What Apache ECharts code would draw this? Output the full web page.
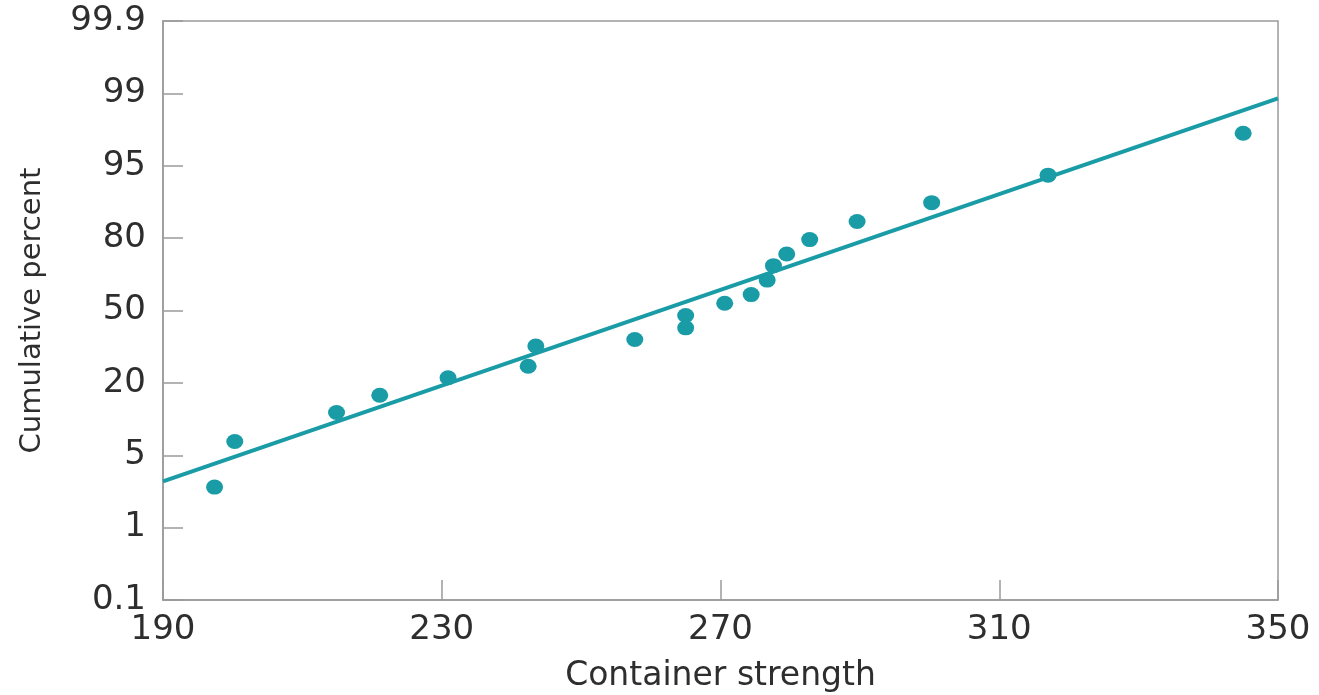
<!DOCTYPE html>
<html>
<head>
<meta charset="utf-8">
<title>Normal probability plot</title>
<script src="https://cdn.jsdelivr.net/npm/echarts@6/dist/echarts.min.js"></script>
<style>
  html, body { margin: 0; padding: 0; background: #fff; }
  #chart { width: 1319px; height: 695px; }
</style>
</head>
<body>
<div id="chart"></div>
<script>
// probability grid labels, equally spaced from bottom (index 0) to top (index 8)
const yTickLabels = ['0.1', '1', '5', '20', '50', '80', '95', '99', '99.9']

// observed container strengths
const strength = [197.4, 200.3, 214.9, 221.1, 230.9, 242.4, 243.5, 257.7, 265.0, 265.0,
                  270.6, 274.4, 276.7, 277.6, 279.5, 282.8, 289.6, 300.3, 317.0, 345.0]
// cumulative position of each point, in grid units (0 = 0.1%, 8 = 99.9%)
const cumPos = [1.56, 2.19, 2.59, 2.83, 3.07, 3.23, 3.51, 3.60, 3.93, 3.76,
                4.10, 4.22, 4.42, 4.62, 4.78, 4.98, 5.23, 5.49, 5.87, 6.45]

// fitted straight line, ends at the plot edges
const fitX = [190, 350]
const fitY = [1.64, 6.93]

const teal = '#1a9ca7'
const textColor = '#2e2e2e'
const axisColor = '#9a9a9a'

function init() {
  const points = strength.map((v, i) => [v, cumPos[i]])
  const fit = fitX.map((v, i) => [v, fitY[i]])

  let option = {
    animation: false,
    grid: {
      left: 163,
      right: 41,
      top: 21,
      bottom: 95,
      outerBoundsMode: 'none',
      containLabel: false,
      show: true,
      borderColor: axisColor,
      borderWidth: 1.5,
      backgroundColor: 'transparent'
    },
    xAxis: {
      type: 'value',
      min: 190,
      max: 350,
      interval: 40,
      name: 'Container strength',
      nameLocation: 'middle',
      nameGap: 60,
      nameTextStyle: {
        fontFamily: 'DejaVu Sans',
        fontSize: 33,
        color: textColor
      },
      axisLine: { lineStyle: { color: axisColor, width: 1.5 } },
      axisTick: { inside: true, length: 20, lineStyle: { color: axisColor, width: 1.5 } },
      axisLabel: {
        margin: 13,
        fontFamily: 'DejaVu Sans',
        fontSize: 34,
        color: textColor
      },
      splitLine: { show: false }
    },
    yAxis: {
      type: 'value',
      min: 0,
      max: 8,
      interval: 1,
      name: 'Cumulative percent',
      nameLocation: 'middle',
      nameGap: 116,
      nameTextStyle: {
        fontFamily: 'DejaVu Sans',
        fontSize: 29,
        color: textColor
      },
      axisLine: { lineStyle: { color: axisColor, width: 1.5 } },
      axisTick: { inside: true, length: 20, lineStyle: { color: axisColor, width: 1.5 } },
      axisLabel: {
        margin: 17,
        fontFamily: 'DejaVu Sans',
        fontSize: 34,
        color: textColor,
        formatter: (v) => yTickLabels[Math.round(v)]
      },
      splitLine: { show: false }
    },
    series: [
      {
        name: 'fit',
        type: 'line',
        data: fit,
        showSymbol: false,
        symbol: 'none',
        lineStyle: { color: teal, width: 4 },
        z: 2
      },
      {
        name: 'data',
        type: 'scatter',
        data: points,
        symbol: 'circle',
        symbolSize: [17, 15],
        itemStyle: { color: teal, opacity: 1 },
        z: 3
      }
    ]
  }
  let myChart = echarts.init(document.getElementById('chart'))
  myChart.setOption(option)
}

init()
</script>
</body>
</html>
